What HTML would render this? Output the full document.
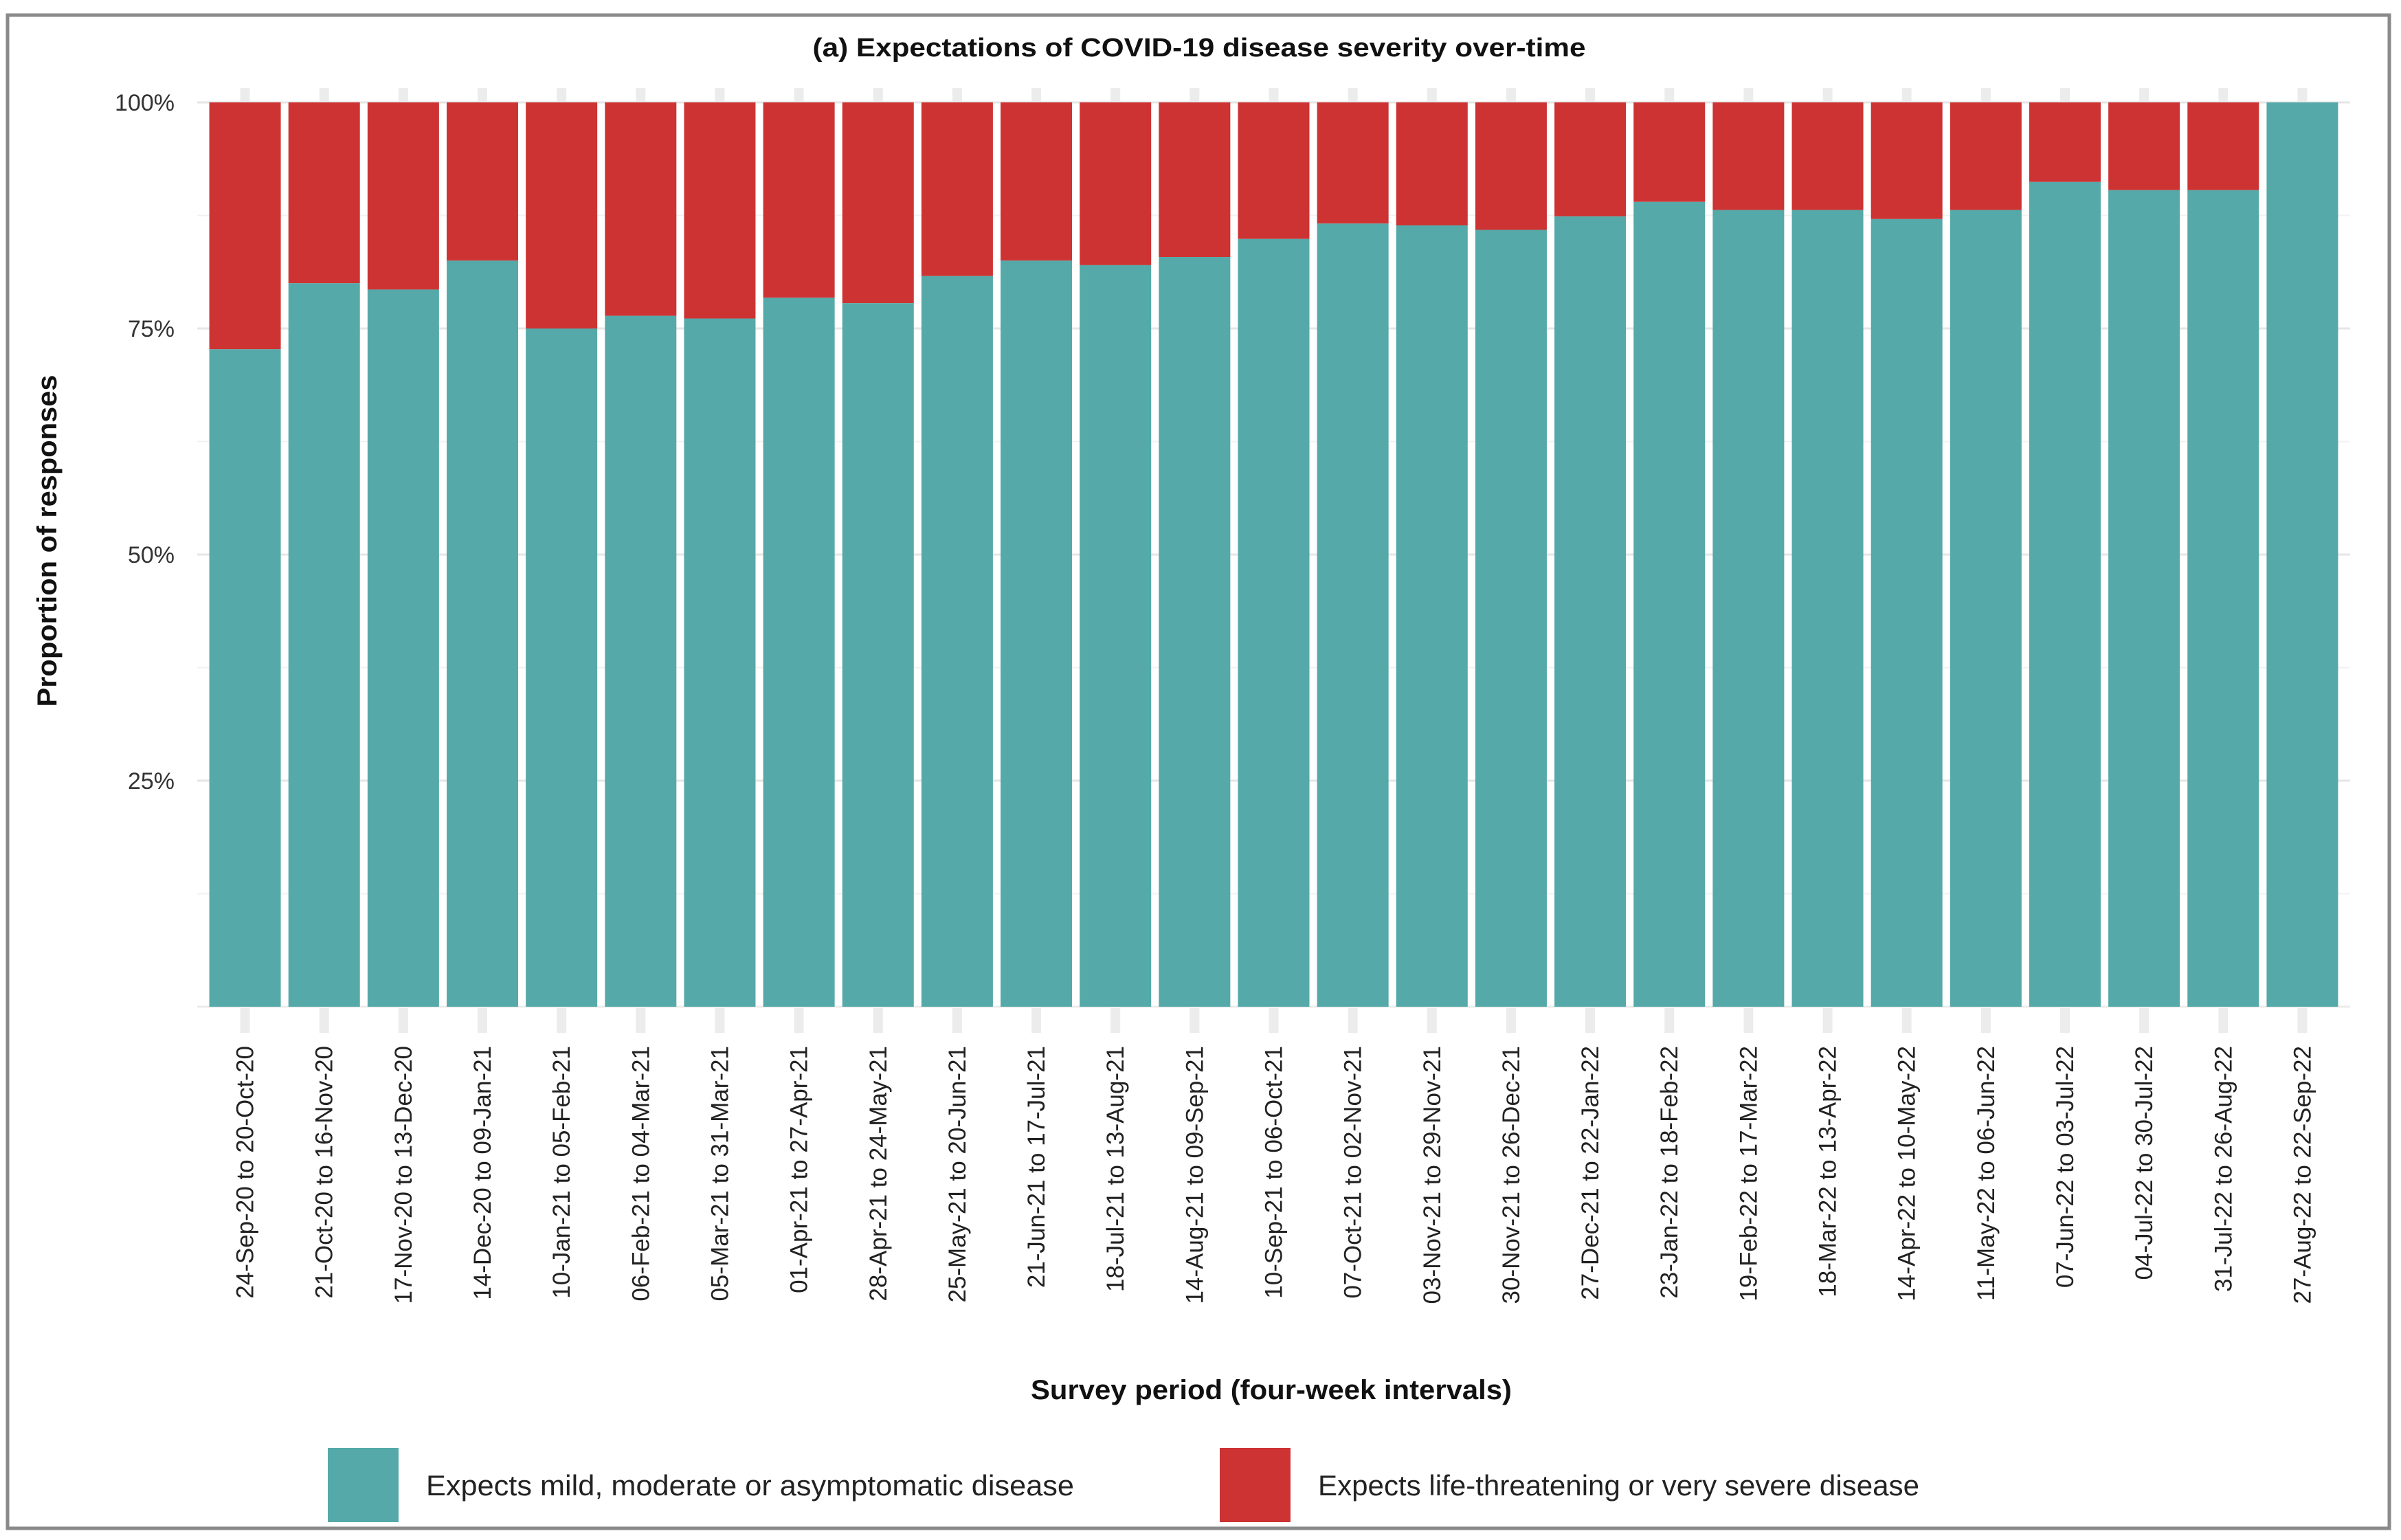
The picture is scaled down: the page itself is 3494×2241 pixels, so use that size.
<!DOCTYPE html>
<html><head><meta charset="utf-8"><style>
html,body{margin:0;padding:0;background:#fff;}
svg{display:block;font-family:"Liberation Sans",sans-serif;}
</style></head><body>
<svg id="chart" width="3494" height="2241" viewBox="0 0 3494 2241">
<rect x="11" y="22" width="3466" height="2202" fill="#fff" stroke="#8a8a8a" stroke-width="5"/>
<text x="1745" y="82" text-anchor="middle" font-size="38" font-weight="bold" fill="#111" textLength="1125" lengthAdjust="spacingAndGlyphs">(a) Expectations of COVID-19 disease severity over-time</text>
<text transform="translate(82,787) rotate(-90)" text-anchor="middle" font-size="40" font-weight="bold" fill="#111" textLength="483" lengthAdjust="spacingAndGlyphs">Proportion of responses</text>
<text x="1850" y="2036" text-anchor="middle" font-size="40" font-weight="bold" fill="#111" textLength="700" lengthAdjust="spacingAndGlyphs">Survey period (four-week intervals)</text>
<g id="grid"></g>
<g id="bars"></g>
<g id="yticks"></g>
<g id="xticks"></g>
<g>
<rect x="477" y="2107" width="103" height="108" fill="#55a9a9"/>
<text x="620" y="2176" font-size="42" fill="#222" textLength="943" lengthAdjust="spacingAndGlyphs">Expects mild, moderate or asymptomatic disease</text>
<rect x="1775" y="2107" width="103" height="108" fill="#cd3333"/>
<text x="1918" y="2176" font-size="42" fill="#222" textLength="875" lengthAdjust="spacingAndGlyphs">Expects life-threatening or very severe disease</text>
</g>
</svg>
<script>
const categories = ["24-Sep-20 to 20-Oct-20","21-Oct-20 to 16-Nov-20","17-Nov-20 to 13-Dec-20","14-Dec-20 to 09-Jan-21","10-Jan-21 to 05-Feb-21","06-Feb-21 to 04-Mar-21","05-Mar-21 to 31-Mar-21","01-Apr-21 to 27-Apr-21","28-Apr-21 to 24-May-21","25-May-21 to 20-Jun-21","21-Jun-21 to 17-Jul-21","18-Jul-21 to 13-Aug-21","14-Aug-21 to 09-Sep-21","10-Sep-21 to 06-Oct-21","07-Oct-21 to 02-Nov-21","03-Nov-21 to 29-Nov-21","30-Nov-21 to 26-Dec-21","27-Dec-21 to 22-Jan-22","23-Jan-22 to 18-Feb-22","19-Feb-22 to 17-Mar-22","18-Mar-22 to 13-Apr-22","14-Apr-22 to 10-May-22","11-May-22 to 06-Jun-22","07-Jun-22 to 03-Jul-22","04-Jul-22 to 30-Jul-22","31-Jul-22 to 26-Aug-22","27-Aug-22 to 22-Sep-22"];
const mildValues = [72.7,80.0,79.3,82.5,75.0,76.4,76.1,78.4,77.8,80.8,82.5,82.0,82.9,84.9,86.6,86.4,85.9,87.4,89.0,88.1,88.1,87.1,88.1,91.2,90.3,90.3,100];
const severeValues = mildValues.map(v => 100 - v);
const yTickValues = [25,50,75,100];
const yTickLabels = ["25%","50%","75%","100%"];

const NS = "http://www.w3.org/2000/svg";
const plotL = 287, plotR = 3420, y0 = 1465, y100 = 149;
const barsL = 299, barsR = 3408;
const pitch = (barsR - barsL) / categories.length;
const barW = 104;
const yScale = v => y0 - (y0 - y100) * v / 100;
const xCenter = i => barsL + pitch * (i + 0.5);
function mk(tag, attrs, parent){const e=document.createElementNS(NS,tag);for(const k in attrs)e.setAttribute(k,attrs[k]);parent.appendChild(e);return e;}

const grid = document.getElementById('grid');
for (let v = 12.5; v <= 100; v += 12.5) {
  const major = (v % 25 === 0);
  const l = mk('line',{x1:plotL,x2:plotR,y1:yScale(v),y2:yScale(v),stroke:major?'#e6e6e6':'#f2f2f2','stroke-width':major?3:2},grid);
  
  
}
const base = mk('line',{x1:plotL,x2:plotR,y1:y0,y2:y0,stroke:'#ececec','stroke-width':3},grid);



const bars = document.getElementById('bars');
const xt = document.getElementById('xticks');
categories.forEach((c, i) => {
  const cx = xCenter(i);
  const t1 = mk('rect',{x:cx-7,y:128,width:14,height:20,fill:'#ececec'},grid);
  
  
  const t2 = mk('rect',{x:cx-7,y:1467,width:14,height:36,fill:'#ececec'},grid);
  
  
  const rs = mk('rect',{x:cx-barW/2,y:yScale(100),width:barW,height:yScale(mildValues[i])-yScale(100),fill:'#cd3333'},bars);
  
  
  const rm = mk('rect',{x:cx-barW/2,y:yScale(mildValues[i]),width:barW,height:y0-yScale(mildValues[i]),fill:'#55a9a9'},bars);
  
  
  const t = mk('text',{transform:`translate(${cx+12},1522) rotate(-90)`,'text-anchor':'end','font-size':35,fill:'#222'},xt);
  t.textContent = c;
  
  
});

const yt = document.getElementById('yticks');
yTickValues.forEach((v, i) => {
  const t = mk('text',{x:254,y:yScale(v)+12,'text-anchor':'end','font-size':34,fill:'#333'},yt);
  t.textContent = yTickLabels[i];
  
  
});
</script>
</body></html>
